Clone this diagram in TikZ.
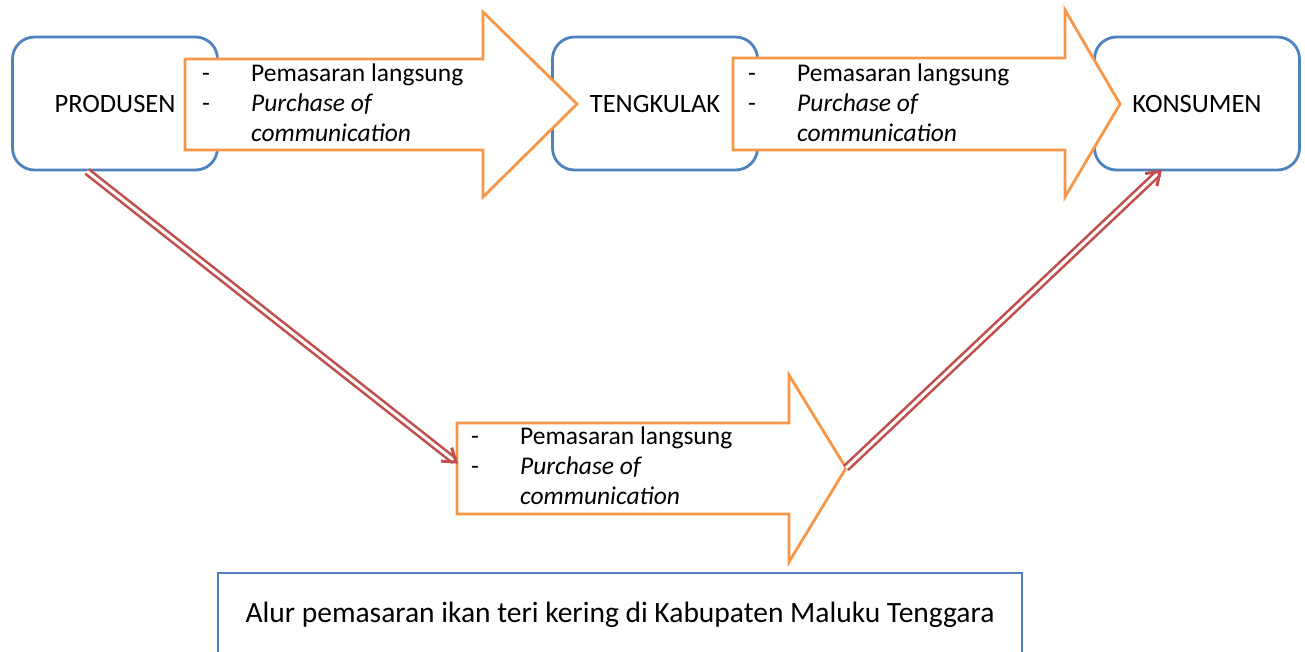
\documentclass[tikz,border=0pt]{standalone}
\usepackage{fontspec}
\setmainfont{Carlito}
\usepackage{xcolor}
\usetikzlibrary{arrows.meta, calc}

\definecolor{boxblue}{HTML}{4F81BD}
\definecolor{arroworange}{HTML}{F79646}
\definecolor{linered}{HTML}{C0504D}

\tikzset{
  actor/.style={draw=boxblue, line width=2.8pt, rounded corners=22pt,
    minimum width=205pt, minimum height=133pt, font=\fontsize{26.5}{30}\selectfont},
  blockarrow/.style={draw=arroworange, line width=2.8pt, fill=white, line join=miter},
  channel/.style={anchor=west, inner sep=0pt, font=\fontsize{25.5}{30}\selectfont},
  flowline/.style={draw=linered, line width=2.6pt, double=white,
    double distance=3pt, shorten >=2pt},
  flowhead/.style={draw=linered, line width=3pt, line join=miter},
  caption/.style={draw=boxblue, line width=2.8pt, minimum width=804pt,
    minimum height=84pt, font=\fontsize{29.5}{34}\selectfont}
}

\newcommand{\channeltext}{%
  \begin{tabular}{@{}p{49pt}@{}l@{}}
    - & Pemasaran langsung\\
    - & \textit{Purchase of}\\
      & \textit{communication}
  \end{tabular}}

\begin{document}
\begin{tikzpicture}[x=1pt, y=-1pt]
            \useasboundingbox (0,0) rectangle (1305,651);
            \clip (0,0) rectangle (1305,651);
            % Actors
            \node[actor] (produsen) at (115,103.5) {PRODUSEN};
            \node[actor] (tengkulak) at (655,103.5) {TENGKULAK};
            \node[actor] (konsumen) at (1197,103.5) {KONSUMEN};
            % Block arrow: produsen to tengkulak
            \draw[blockarrow] (185,59) -- (483,59) -- (483,12) -- (577,104)
              -- (483,197) -- (483,150) -- (185,150) -- cycle;
            \node[channel] (ch1) at (202,105) {\channeltext};
            % Block arrow: tengkulak to konsumen
            \draw[blockarrow] (733,58) -- (1065,58) -- (1065,10) -- (1120,104)
              -- (1065,197) -- (1065,150) -- (733,150) -- cycle;
            \node[channel] (ch2) at (748,105) {\channeltext};
            % Block arrow: direct channel
            \draw[blockarrow] (457,423) -- (789,423) -- (789,375) -- (846,468)
              -- (789,562) -- (789,514) -- (457,514) -- cycle;
            \coordinate (ch3tail) at (456,462);
            \coordinate (ch3tip) at (846,468);
            \node[channel] (ch3) at (471,468) {\channeltext};
            % Direct flow lines
            \coordinate (prodfoot) at ([xshift=-28pt]produsen.south);
            \coordinate (konsfoot) at ([xshift=-37pt]konsumen.south);
            \draw[flowline] (prodfoot) -- (ch3tail);
            \draw[flowhead] ($(ch3tail)!15pt!35:(prodfoot)$) -- (ch3tail)
              -- ($(ch3tail)!15pt!-35:(prodfoot)$);
            \draw[flowline] (ch3tip) -- (konsfoot);
            \draw[flowhead] ($(konsfoot)!15pt!35:(ch3tip)$) -- (konsfoot)
              -- ($(konsfoot)!15pt!-35:(ch3tip)$);
            % Caption
            \node[caption] (title) at (620,615)
              {Alur pemasaran ikan teri kering di Kabupaten Maluku Tenggara};
        \end{tikzpicture}
\end{document}
